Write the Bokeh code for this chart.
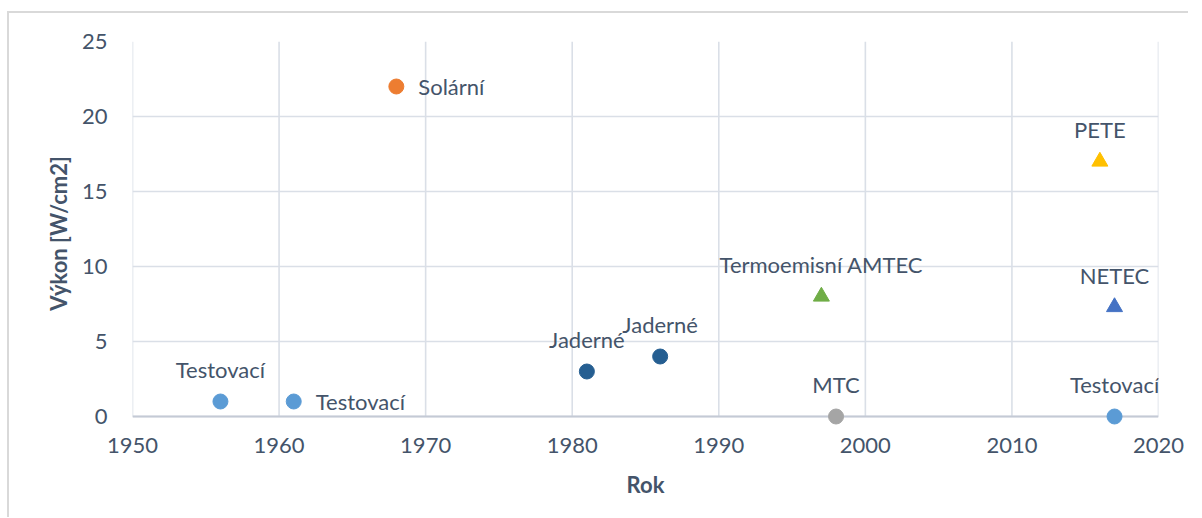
from bokeh.plotting import figure
from bokeh.models import Range1d, FixedTicker, ColumnDataSource
from bokeh.embed import file_html
from bokeh.resources import INLINE
from bokeh.core.properties import value

# ---- data ----
labels = ["Testovací", "Testovací", "Solární", "Jaderné", "Jaderné",
          "Termoemisní AMTEC", "MTC", "PETE", "NETEC", "Testovací"]
years = [1956, 1961, 1968, 1981, 1986, 1997, 1998, 2016, 2017, 2017]
power = [1, 1, 22, 3, 4, 8, 0, 17, 7.3, 0]
markers = ["circle", "circle", "circle", "circle", "circle",
           "triangle", "circle", "triangle", "triangle", "circle"]
colors = ["#5b9bd5", "#5b9bd5", "#ed7d31", "#255e91", "#255e91",
          "#70ad47", "#a5a5a5", "#ffc000", "#4472c4", "#5b9bd5"]
label_pos = ["above", "right", "right", "above", "above",
             "above", "above", "above", "above", "above"]
x_ticks = [1950, 1960, 1970, 1980, 1990, 2000, 2010, 2020]
y_ticks = [0, 5, 10, 15, 20, 25]

FONT = "Lato"
TXT = "#44546a"
GRID = "#dadfe7"

p = figure(frame_width=1026, frame_height=384,
           min_border_left=123, min_border_top=28,
           min_border_right=30, min_border_bottom=92,
           x_range=Range1d(x_ticks[0], x_ticks[-1]),
           y_range=Range1d(-0.6, y_ticks[-1]),
           output_backend="svg", toolbar_location=None,
           background_fill_color="white", border_fill_color="white")
p.outline_line_color = None
p.styles = {"border-left": "2px solid #d9d9d9", "border-top": "2px solid #d9d9d9",
            "margin-left": "7px", "margin-top": "11px"}

# grid
p.xgrid.visible = False
p.ygrid.ticker = FixedTicker(ticks=y_ticks)
p.ygrid.grid_line_color = GRID
p.ygrid.grid_line_width = 1.6
p.segment(x0=x_ticks, y0=[y_ticks[0]] * len(x_ticks),
          x1=x_ticks, y1=[y_ticks[-1]] * len(x_ticks),
          line_color=GRID, line_width=1.6)
p.segment(x0=[x_ticks[0]], y0=[0], x1=[x_ticks[-1]], y1=[0],
          line_color="#c4cad5", line_width=2)

# axes
for ax in (p.xaxis[0], p.yaxis[0]):
    ax.axis_line_color = None
    ax.major_tick_line_color = None
    ax.minor_tick_line_color = None
    ax.major_label_text_font = FONT
    ax.major_label_text_font_size = "22px"
    ax.major_label_text_color = TXT
    ax.axis_label_text_font = FONT
    ax.axis_label_text_font_size = "22px"
    ax.axis_label_text_font_style = "bold"
    ax.axis_label_text_color = TXT
p.xaxis.ticker = FixedTicker(ticks=x_ticks)
p.yaxis.ticker = FixedTicker(ticks=y_ticks)
p.xaxis.axis_label = "Rok"
p.yaxis.axis_label = "Výkon [W/cm2]"
p.xaxis.major_label_standoff = 6
p.xaxis.axis_label_standoff = 15
p.yaxis.major_label_standoff = 19
p.yaxis.axis_label_standoff = 7

# points
sizes = [16 if m == "triangle" else 15 for m in markers]
src = ColumnDataSource(dict(x=years, y=power, m=markers, c=colors, s=sizes, t=labels))
p.scatter(x="x", y="y", marker="m", size="s", fill_color="c", line_color="c", source=src)

# labels
xo = [22 if lp == "right" else 0 for lp in label_pos]
yo = [0 if lp == "right" else -32 for lp in label_pos]
al = ["left" if lp == "right" else "center" for lp in label_pos]
lsrc = ColumnDataSource(dict(x=years, y=power, t=labels, xo=xo, yo=yo, al=al))
p.text(x="x", y="y", text="t", x_offset="xo", y_offset="yo", text_align="al",
       text_baseline="middle", text_font=value(FONT), text_font_size="22px",
       text_color=TXT, source=lsrc)

open("out.html", "w").write(file_html(p, INLINE))
